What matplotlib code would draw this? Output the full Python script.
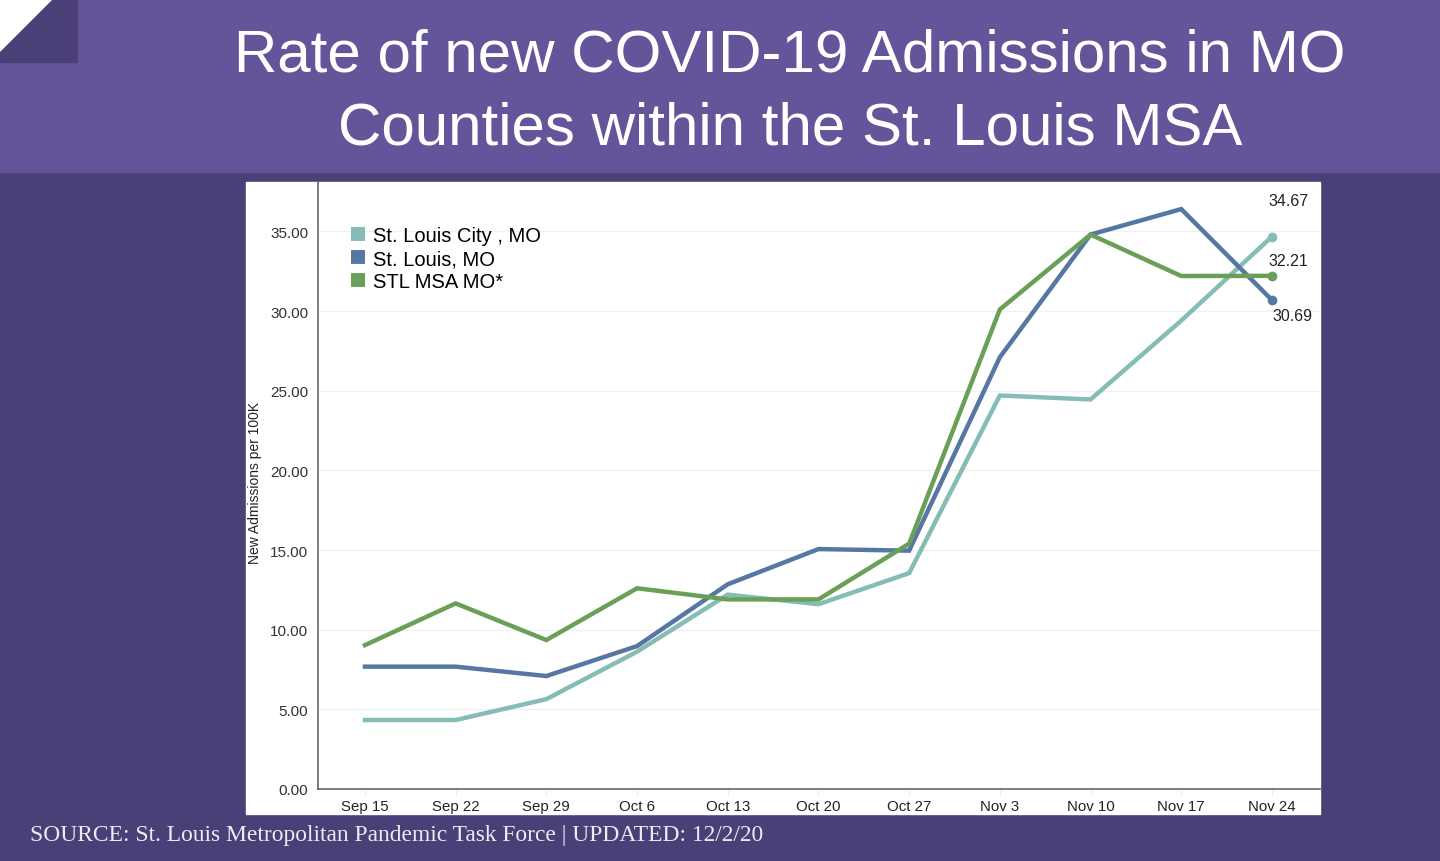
import matplotlib
matplotlib.use("Agg")
import matplotlib.pyplot as plt
from matplotlib.patches import Rectangle, Polygon

weeks = ["Sep 15", "Sep 22", "Sep 29", "Oct 6", "Oct 13", "Oct 20",
         "Oct 27", "Nov 3", "Nov 10", "Nov 17", "Nov 24"]

city = [4.33, 4.33, 5.64, 8.62, 12.2, 11.6, 13.55, 24.7, 24.45, 29.4, 34.67]
county = [7.68, 7.68, 7.09, 8.97, 12.85, 15.06, 14.96, 27.1, 34.8, 36.4, 30.69]
msa = [9.03, 11.65, 9.35, 12.6, 11.9, 11.9, 15.4, 30.1, 34.8, 32.2, 32.21]

series_names = ["St. Louis City , MO", "St. Louis, MO", "STL MSA MO*"]
series_colors = ["#86BCB6", "#5677A4", "#6A9F58"]
end_labels = ["34.67", "30.69", "32.21"]

yticks = [0, 5, 10, 15, 20, 25, 30, 35]

W, H = 1440, 862
fig = plt.figure(figsize=(W / 100, H / 100), dpi=100)
fig.patch.set_facecolor("#4B3F78")
plt.rcParams['font.family'] = ['Liberation Sans', 'DejaVu Sans']


def fx(px):
    return px / W


def fy(py):
    return 1 - py / H


# header band and folded corner
fig.patches.append(Rectangle((0, fy(173)), 1, 173 / H, transform=fig.transFigure,
                             color="#64559A", zorder=-3))
fig.patches.append(Rectangle((0, fy(63)), fx(77), 63 / H, transform=fig.transFigure,
                             color="#4B3F78", zorder=-2))
fig.patches.append(Polygon([(0, 1), (fx(52), 1), (0, fy(52))], closed=True,
                           transform=fig.transFigure, color="white", zorder=-1))

fig.text(fx(790), fy(56), "Rate of new COVID-19 Admissions in MO", color="white",
         fontsize=43.3, ha="center", va="center")
fig.text(fx(790), fy(129), "Counties within the St. Louis MSA", color="white",
         fontsize=43.3, ha="center", va="center")

# white chart panel
fig.patches.append(Rectangle((fx(246), fy(815)), fx(1320) - fx(246), (815 - 183) / H,
                             transform=fig.transFigure, color="white", zorder=-3))

ax = fig.add_axes([fx(318), fy(790), fx(1320) - fx(318), (790 - 183) / H])
ax.set_zorder(5)
ax.set_facecolor("white")

x = list(range(len(weeks)))
for vals, name, col in zip([city, county, msa], series_names, series_colors):
    ax.plot(x, vals, color=col, lw=3.2, label=name, solid_joinstyle="miter")
    ax.plot(x[-1], vals[-1], "o", color=col, ms=6)

ax.annotate(end_labels[0], (x[-1], city[-1]), xytext=(12, 26), textcoords="offset points",
            ha="center", va="center", fontsize=11.5, color="#222222")
ax.annotate(end_labels[2], (x[-1], msa[-1]), xytext=(12, 11), textcoords="offset points",
            ha="center", va="center", fontsize=11.5, color="#222222")
ax.annotate(end_labels[1], (x[-1], county[-1]), xytext=(15, -11), textcoords="offset points",
            ha="center", va="center", fontsize=11.5, color="#222222")

ax.set_xlim(-0.518, 10.53)
ax.set_ylim(0, 38.1)
ax.set_xticks(x)
ax.set_xticklabels(weeks, fontsize=10.8, color="#222222")
ax.set_yticks(yticks)
ax.set_yticklabels(["%.2f" % v for v in yticks], fontsize=11, color="#333333")
ax.tick_params(axis="y", length=0, pad=7)
ax.tick_params(axis="x", length=4, color="#eeeeee", pad=3)
ax.grid(axis="y", color="#f0f0f0", lw=1)
ax.set_axisbelow(True)
for s in ["top", "right"]:
    ax.spines[s].set_visible(False)
for s in ["left", "bottom"]:
    ax.spines[s].set_color("#666666")
    ax.spines[s].set_linewidth(1.2)

fig.text(fx(255), fy(483), "New Admissions per 100K", rotation=90, fontsize=10,
         ha="center", va="center", color="#222222")

leg = ax.legend(loc="upper left", bbox_to_anchor=(0.015, 0.957), frameon=False,
                fontsize=14.5, handlelength=0.7, handleheight=0.7, handletextpad=0.4,
                labelspacing=0.2)
for h in leg.legend_handles:
    h.set_linewidth(10)
    h.set_solid_capstyle("butt")

fig.text(fx(30), fy(836), "SOURCE: St. Louis Metropolitan Pandemic Task Force | UPDATED: 12/2/20",
         family=["Liberation Serif", "DejaVu Serif"], fontsize=16.9, color="#ececf2",
         ha="left", va="center")

fig.savefig("out.png", dpi=100, facecolor=fig.get_facecolor())
